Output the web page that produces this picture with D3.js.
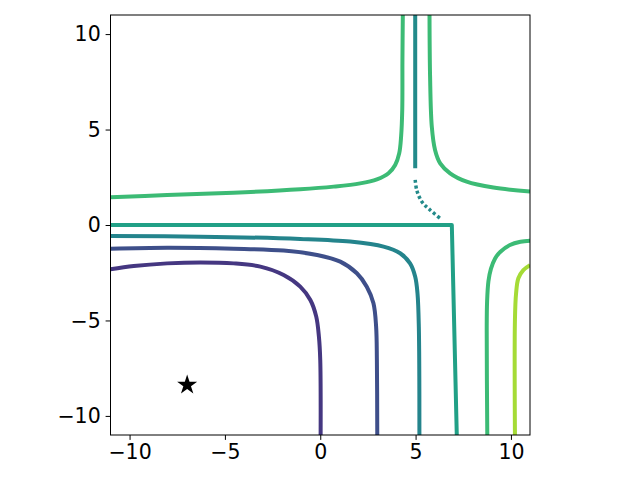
<!DOCTYPE html>
<html>
<head>
<meta charset="utf-8">
<script src="https://cdn.jsdelivr.net/npm/d3@7"></script>
<style>
  html, body { margin: 0; padding: 0; background: #fff; }
  svg { display: block; }
  text { font-family: "DejaVu Sans", sans-serif; }
</style>
</head>
<body>
<svg id="chart" width="640" height="480"></svg>
<script>
// ---- data ----
const xTicks = [-10, -5, 0, 5, 10];
const yTicks = [-10, -5, 0, 5, 10];
const xDomain = [-11, 11];
const yDomain = [-11, 11];

// contour lines (level index -> polyline of [x, y])
const line1 = [[-11,-2.32],[-9.78,-2.15],[-8.03,-2.01],[-6.29,-1.96],[-4.54,-2.01],[-3.14,-2.18],[-1.92,-2.62],[-1.05,-3.23],[-0.52,-3.93],[-0.21,-4.80],[-0.07,-5.85],[0,-7.07],[0.02,-11]];
const line2 = [[-11,-1.24],[-8.03,-1.19],[-4.54,-1.24],[-1.92,-1.34],[-0.17,-1.57],[1.05,-1.92],[1.92,-2.53],[2.44,-3.23],[2.79,-4.10],[2.93,-5.33],[2.97,-7.07],[2.99,-11]];
const line3 = [[-11,-0.58],[-6.29,-0.61],[-1.05,-0.73],[1.57,-0.87],[3.32,-1.13],[4.19,-1.48],[4.71,-2.01],[4.98,-2.71],[5.10,-3.58],[5.17,-5.33],[5.20,-11]];
const line4 = [[-11,0.0],[6.9,0.0],[7.16,-11]];
const line4top = [[4.98,11],[4.98,2.97]];
const line4dots = [[4.98,2.36],[5.06,1.83],[5.33,1.22],[5.76,0.79],[6.29,0.35]];
const line5a = [[-11,1.45],[-8.03,1.57],[-4.54,1.69],[-1.05,1.87],[0.70,2.01],[2.09,2.18],[2.97,2.39],[3.58,2.71],[3.93,3.14],[4.14,3.75],[4.24,4.63],[4.30,6.02],[4.31,8.64],[4.33,11]];
const line5b = [[5.73,11],[5.76,7.77],[5.85,5.15],[6.02,3.93],[6.29,3.23],[6.81,2.71],[7.68,2.27],[9.08,1.96],[11,1.75]];
const line5c = [[11,-0.82],[10.5,-0.88],[9.95,-1.05],[9.45,-1.4],[9.17,-1.75],[8.95,-2.3],[8.82,-2.95],[8.75,-4],[8.73,-5.5],[8.76,-11]];
const line6 = [[11,-2.1],[10.65,-2.36],[10.39,-2.79],[10.27,-3.58],[10.21,-4.98],[10.21,-11]];
const starPoint = [[-6.98, -8.38]];

const lineColors = ["#453781", "#3e4f8a", "#24848c", "#21a086", "#238a8a", "#3cbb75", "#a5db36"];

// ---- layout ----
const svg = d3.select("#chart");
const L = 110.5, R = 530, T = 15, B = 435;
const x = d3.scaleLinear().domain(xDomain).range([L, R]);
const y = d3.scaleLinear().domain(yDomain).range([B, T]);

svg.append("defs").append("clipPath").attr("id", "clip")
  .append("rect").attr("x", L).attr("y", T).attr("width", R - L).attr("height", B - T);

const g = svg.append("g").attr("clip-path", "url(#clip)");

const smooth = d3.line().x(d => x(d[0])).y(d => y(d[1])).curve(d3.curveCatmullRom.alpha(0.5));
const straight = d3.line().x(d => x(d[0])).y(d => y(d[1]));

const specs = [
  {d: line1, c: lineColors[0], f: smooth},
  {d: line2, c: lineColors[1], f: smooth},
  {d: line3, c: lineColors[2], f: smooth},
  {d: line4, c: lineColors[3], f: straight},
  {d: line4top, c: lineColors[4], f: straight},
  {d: line5a, c: lineColors[5], f: smooth},
  {d: line5b, c: lineColors[5], f: smooth},
  {d: line5c, c: lineColors[5], f: smooth},
  {d: line6, c: lineColors[6], f: smooth}
];
specs.forEach(s => {
  g.append("path").attr("d", s.f(s.d)).attr("fill", "none")
    .attr("stroke", s.c).attr("stroke-width", 4).attr("stroke-linejoin", "round");
});
g.append("path").attr("d", smooth(line4dots)).attr("fill", "none")
  .attr("stroke", lineColors[4]).attr("stroke-width", 3.5).attr("stroke-dasharray", "3 2.5");

// star marker
g.selectAll(".star").data(starPoint).enter().append("path")
  .attr("transform", d => `translate(${x(d[0])},${y(d[1])})`)
  .attr("d", d3.symbol().type(d3.symbolStar).size(124))
  .attr("fill", "#000");

// ---- axes ----
const fmt = v => (v < 0 ? "\u2212" + Math.abs(v) : String(v));
const xAxis = d3.axisBottom(x).tickValues(xTicks).tickFormat(fmt).tickSize(4.9).tickPadding(4.9);
const yAxis = d3.axisLeft(y).tickValues(yTicks).tickFormat(fmt).tickSize(4.9).tickPadding(4.9);

const gx = svg.append("g").attr("transform", `translate(0,${B})`).call(xAxis);
const gy = svg.append("g").attr("transform", `translate(${L},0)`).call(yAxis);
[gx, gy].forEach(a => {
  a.select(".domain").remove();
  a.selectAll("line").attr("stroke", "#000").attr("stroke-width", 1);
  a.selectAll("text").attr("fill", "#000").style("font-size", "20.5px").style("font-family", "'DejaVu Sans', sans-serif");
});

// frame
svg.append("rect").attr("x", L).attr("y", T).attr("width", R - L).attr("height", B - T)
  .attr("fill", "none").attr("stroke", "#000").attr("stroke-width", 1);
</script>
</body>
</html>
